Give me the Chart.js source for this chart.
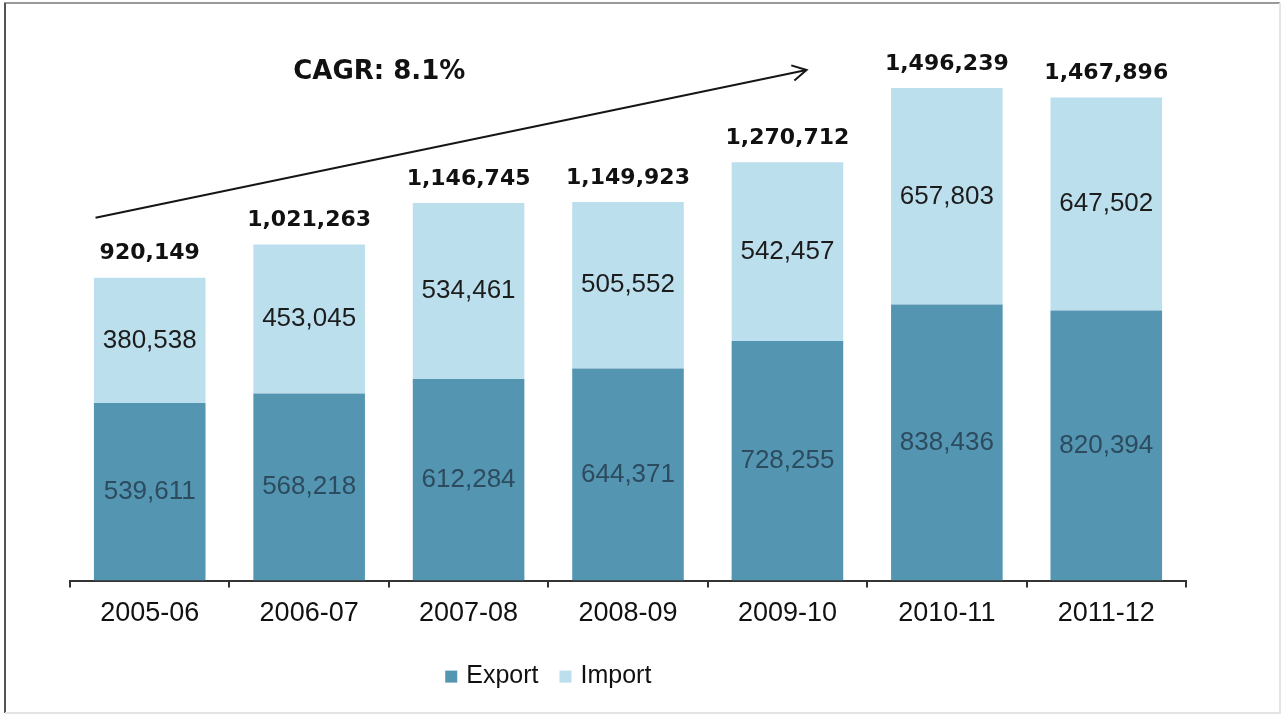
<!DOCTYPE html>
<html>
<head>
<meta charset="utf-8">
<script src="https://cdn.jsdelivr.net/npm/chart.js@4.4.0/dist/chart.umd.min.js"></script>
<style>
html, body { margin: 0; padding: 0; background: #fff; }
#wrap { width: 1283px; height: 715px; position: relative; }
</style>
</head>
<body>
<div id="wrap"><canvas id="tradeChart"></canvas></div>
<script>
const years = ['2005-06', '2006-07', '2007-08', '2008-09', '2009-10', '2010-11', '2011-12'];
const exportVals = [539611, 568218, 612284, 644371, 728255, 838436, 820394];
const importVals = [380538, 453045, 534461, 505552, 542457, 657803, 647502];
const totalVals = [920149, 1021263, 1146745, 1149923, 1270712, 1496239, 1467896];

// growth arrow, in axis units (category index, value)
const cagrText = 'CAGR: 8.1%';
const cagrFrom = { x: -0.34, y: 1102000 };
const cagrTo = { x: 4.12, y: 1551000 };
const cagrLabel = { x: 1.44, y: 1545000 };

const fmt = v => v.toLocaleString('en-US');
const labelFont = '"Liberation Sans", Arial, sans-serif';

const framePlugin = {
    id: 'frame',
    beforeDraw(chart) {
        const ctx = chart.ctx;
        ctx.save();
        ctx.fillStyle = '#fff';
        ctx.fillRect(0, 0, chart.width, chart.height);
        ctx.lineWidth = 2;
        ctx.strokeStyle = '#9a9a9a';
        ctx.beginPath(); ctx.moveTo(4, 3); ctx.lineTo(1280, 3); ctx.stroke();
        ctx.strokeStyle = '#555';
        ctx.beginPath(); ctx.moveTo(5, 3); ctx.lineTo(5, 713); ctx.stroke();
        ctx.strokeStyle = '#e4e4e4';
        ctx.beginPath(); ctx.moveTo(1280, 3); ctx.lineTo(1280, 713); ctx.lineTo(5, 713); ctx.stroke();
        ctx.restore();
    }
};

const labelPlugin = {
    id: 'barLabels',
    afterDatasetsDraw(chart) {
        const ctx = chart.ctx;
        ctx.save();
        ctx.textAlign = 'center';
        ctx.textBaseline = 'middle';
        chart.data.datasets.forEach((ds, i) => {
            const meta = chart.getDatasetMeta(i);
            ctx.font = '26px ' + labelFont;
            ctx.fillStyle = i === 0 ? '#2d4b5e' : '#1c1c1c';
            meta.data.forEach((bar, j) => {
                ctx.fillText(fmt(ds.data[j]), bar.x, (bar.y + bar.base) / 2);
            });
        });
        // totals above each stack
        const top = chart.getDatasetMeta(chart.data.datasets.length - 1);
        ctx.font = 'bold 22px "DejaVu Sans", Verdana, sans-serif';
        ctx.fillStyle = '#111';
        top.data.forEach((bar, j) => {
            ctx.fillText(fmt(totalVals[j]), bar.x, bar.y - 24);
        });

        // CAGR arrow
        const xs = chart.scales.x, ys = chart.scales.y;
        const x0 = xs.getPixelForValue(cagrFrom.x), y0 = ys.getPixelForValue(cagrFrom.y);
        const x1 = xs.getPixelForValue(cagrTo.x), y1 = ys.getPixelForValue(cagrTo.y);
        ctx.strokeStyle = '#151515';
        ctx.lineWidth = 2;
        ctx.beginPath(); ctx.moveTo(x0, y0); ctx.lineTo(x1, y1); ctx.stroke();
        const ang = Math.atan2(y1 - y0, x1 - x0);
        const head = 16;
        ctx.beginPath();
        ctx.moveTo(x1 - head * Math.cos(ang - 0.5), y1 - head * Math.sin(ang - 0.5));
        ctx.lineTo(x1, y1);
        ctx.lineTo(x1 - head * Math.cos(ang + 0.5), y1 - head * Math.sin(ang + 0.5));
        ctx.stroke();

        ctx.font = 'bold 26px "DejaVu Sans", Verdana, sans-serif';
        ctx.fillStyle = '#111';
        ctx.fillText(cagrText, xs.getPixelForValue(cagrLabel.x), ys.getPixelForValue(cagrLabel.y));
        ctx.restore();
    }
};

// legend drawn under the middle of the axis, small squares before each name
const legendPlugin = {
    id: 'tradeLegend',
    afterDraw(chart) {
        const ctx = chart.ctx;
        const xs = chart.scales.x;
        const cx = xs.getPixelForValue(2.5);
        const cy = chart.chartArea.bottom + 96;
        const box = 12;
        ctx.save();
        ctx.font = '25px ' + labelFont;
        ctx.textBaseline = 'middle';
        ctx.textAlign = 'left';
        const items = chart.data.datasets.map(ds => ({
            text: ds.label, color: ds.backgroundColor, w: ctx.measureText(ds.label).width
        }));
        const gapBox = 9, gapItem = 21;
        let total = 0;
        items.forEach((it, i) => { total += box + gapBox + it.w + (i < items.length - 1 ? gapItem : 0); });
        let x = cx - total / 2;
        items.forEach(it => {
            ctx.fillStyle = it.color;
            ctx.fillRect(x, cy - box / 2, box, box);
            x += box + gapBox;
            ctx.fillStyle = '#111';
            ctx.fillText(it.text, x, cy);
            x += it.w + gapItem;
        });
        ctx.restore();
    }
};

new Chart(document.getElementById('tradeChart'), {
    type: 'bar',
    data: {
        labels: years,
        datasets: [{
            label: 'Export',
            backgroundColor: '#5496b2',
            data: exportVals
        }, {
            label: 'Import',
            backgroundColor: '#bcdfee',
            data: importVals
        }]
    },
    options: {
        responsive: true,
        maintainAspectRatio: false,
        animation: false,
        categoryPercentage: 1,
        barPercentage: 0.7,
        layout: {
            padding: { top: 21, left: 70, right: 97, bottom: 75 }
        },
        scales: {
            x: {
                stacked: true,
                grid: {
                    display: true,
                    drawOnChartArea: false,
                    drawTicks: true,
                    tickLength: 7,
                    color: '#333',
                    lineWidth: 2
                },
                border: { display: true, color: '#333', width: 2 },
                ticks: {
                    color: '#111',
                    padding: 10,
                    font: { family: labelFont, size: 27 }
                }
            },
            y: {
                stacked: true,
                display: false,
                min: 0,
                max: 1700000
            }
        },
        plugins: {
            tooltip: { enabled: false },
            legend: { display: false }
        }
    },
    plugins: [framePlugin, labelPlugin, legendPlugin]
});
</script>
</body>
</html>
